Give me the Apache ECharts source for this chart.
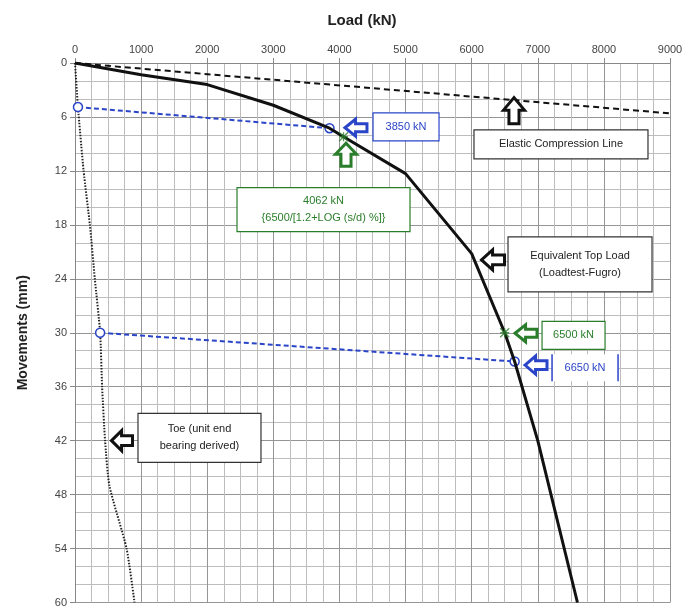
<!DOCTYPE html>
<html><head><meta charset="utf-8">
<script src="https://cdn.jsdelivr.net/npm/echarts@6/dist/echarts.min.js"></script>
<style>html,body{margin:0;padding:0;background:#fff}#c{width:699px;height:608px}</style>
</head><body><div id="c"></div>
<script>
// Data (load kN, movement mm)
var topLoad = [[0,0],[1000,1.3],[2000,2.4],[3000,4.7],[3850,7.25],[4062,8.2],[5000,12.3],[6000,21.2],[6500,30],[6650,33.2],[7000,42],[7600,60]];
var toeLoad = [[0,0],[45,4.9],[130,12],[225,18],[300,24],[380,30],[410,36],[455,42],[520,47],[780,54],[900,60]];
var elastic = [[0,0],[9000,5.6]];
var link1 = [[45,4.9],[3850,7.25]];
var link2 = [[380,30],[6650,33.2]];
var greenMarks = [[4062,8.2],[6500,30]];
var xTicks = [0,1000,2000,3000,4000,5000,6000,7000,8000,9000];
var yTicks = [0,6,12,18,24,30,36,42,48,54,60];

var BLUE = '#2b45c8', GREEN = '#2a7d2a', FONT = 'Liberation Sans';
var chart = echarts.init(document.getElementById('c'));
var option = {
  animation:false,
  backgroundColor:'#fff',
  title:{text:'Load (kN)', left:357, top:8, textAlign:'center',
    textStyle:{fontFamily:FONT, fontSize:15, fontWeight:'bold', color:'#222'}},
  grid:{left:75, right:29, top:63, bottom:5},
  xAxis:{type:'value', position:'top', min:xTicks[0], max:xTicks[xTicks.length-1], interval:1000,
    axisLine:{show:true, lineStyle:{color:'#888'}},
    axisTick:{show:true, length:5, lineStyle:{color:'#888'}},
    axisLabel:{fontFamily:FONT, fontSize:11, color:'#444', margin:8, formatter:function(v){return String(v);}},
    splitLine:{show:true, lineStyle:{color:'#959595', width:1}},
    minorTick:{show:false, splitNumber:4},
    minorSplitLine:{show:true, lineStyle:{color:'#bdbdbd', width:1}}},
  yAxis:{type:'value', inverse:true, min:yTicks[0], max:yTicks[yTicks.length-1], interval:6,
    name:'Movements (mm)', nameLocation:'middle', nameGap:45, nameRotate:90,
    nameTextStyle:{fontFamily:FONT, fontSize:14, fontWeight:'bold', color:'#222'},
    axisLine:{show:true, lineStyle:{color:'#888'}},
    axisTick:{show:true, length:5, lineStyle:{color:'#888'}},
    axisLabel:{fontFamily:FONT, fontSize:11, color:'#444', margin:8, formatter:function(v){return String(v);}},
    splitLine:{show:true, lineStyle:{color:'#959595', width:1}},
    minorTick:{show:false, splitNumber:3},
    minorSplitLine:{show:true, lineStyle:{color:'#bdbdbd', width:1}}},
  series:[
    {type:'line', data:elastic, symbol:'none', lineStyle:{color:'#111', width:2, type:[6,4]}, z:3},
    {type:'line', data:toeLoad, symbol:'none', smooth:0.2, lineStyle:{color:'#222', width:2, type:[1.5,1.5]}, z:3},
    {type:'line', data:link1, symbol:'circle', symbolSize:9, showAllSymbol:true,
      itemStyle:{color:'#fff', borderColor:BLUE, borderWidth:1.5},
      lineStyle:{color:BLUE, width:2, type:[5,3]}, z:4},
    {type:'line', data:link2, symbol:'circle', symbolSize:9,
      itemStyle:{color:'#fff', borderColor:BLUE, borderWidth:1.5},
      lineStyle:{color:BLUE, width:2, type:[5,3]}, z:4},
    {type:'line', data:topLoad, symbol:'none', lineStyle:{color:'#111', width:3}, z:5},
    {type:'scatter', data:greenMarks, symbol:'path://M0,0L10,10M10,0L0,10M5,0L5,10M0,5L10,5', symbolSize:9,
      itemStyle:{color:'none', borderColor:GREEN, borderWidth:1.3}, z:6}
  ]
};
chart.setOption(option);

function px(p){ return chart.convertToPixel({gridIndex:0}, p); }
function arrow(at, dir, w, h, color){
  var c = px(at), L = (dir==='up')?h:w, T = (dir==='up')?w:h;
  var hl = L*0.48, sh = T*0.24;
  var pts = [[-L/2,0],[-L/2+hl,-T/2],[-L/2+hl,-sh],[L/2,-sh],[L/2,sh],[-L/2+hl,sh],[-L/2+hl,T/2]];
  pts = pts.map(function(q){ return dir==='up' ? [c[0]+q[1], c[1]+q[0]] : [c[0]+q[0], c[1]+q[1]]; });
  return {type:'polygon', shape:{points:pts}, style:{fill:'#fff', stroke:color, lineWidth:3, lineJoin:'miter'}, z:100};
}
function box(at, w, h, text, color, border, fs, sidesOnly){
  var c = px(at), els = [];
  els.push({type:'rect', shape:{x:c[0]-w/2, y:c[1]-h/2, width:w, height:h},
    style:{fill:'#fff', stroke: sidesOnly?'none':border, lineWidth:1.2}, z:100});
  if(sidesOnly){
    els.push({type:'line', shape:{x1:c[0]-w/2,y1:c[1]-h/2,x2:c[0]-w/2,y2:c[1]+h/2}, style:{stroke:border, lineWidth:1.5}, z:101});
    els.push({type:'line', shape:{x1:c[0]+w/2,y1:c[1]-h/2,x2:c[0]+w/2,y2:c[1]+h/2}, style:{stroke:border, lineWidth:1.5}, z:101});
  }
  els.push({type:'text', x:c[0], y:c[1], style:{text:text, align:'center', verticalAlign:'middle',
    fill:color, font:fs+'px "'+FONT+'"', lineHeight:fs+6}, z:102});
  return els;
}
var g = [];
g.push(arrow([4250,7.2],'left',22,17,BLUE));
g = g.concat(box([5007,7.1],66,28,'3850 kN',BLUE,BLUE,11));
g.push(arrow([4099,10.2],'up',21,23,GREEN));
g = g.concat(box([3759,16.3],173,44,'4062 kN\n{6500/[1.2+LOG (s/d) %]}',GREEN,GREEN,11));
g.push(arrow([6640,5.3],'up',21,26,'#111'));
g = g.concat(box([7351,9.06],174,29,'Elastic Compression Line','#222','#333',11));
g.push(arrow([6323,21.9],'left',23,20,'#111'));
g = g.concat(box([7639,22.4],144,55,'Equivalent Top Load\n(Loadtest-Fugro)','#222','#333',11));
g.push(arrow([6822,30.06],'left',22,17,GREEN));
g = g.concat(box([7541,30.3],63,28,'6500 kN',GREEN,GREEN,11));
g.push(arrow([6973,33.6],'left',22,18,BLUE));
g = g.concat(box([7715,33.9],66,27,'6650 kN',BLUE,BLUE,11,true));
g.push(arrow([711,42],'left',21,20,'#111'));
g = g.concat(box([1883,41.7],123,49,'Toe (unit end\nbearing derived)','#222','#333',11));
chart.setOption({graphic:{elements:g}});
</script></body></html>
